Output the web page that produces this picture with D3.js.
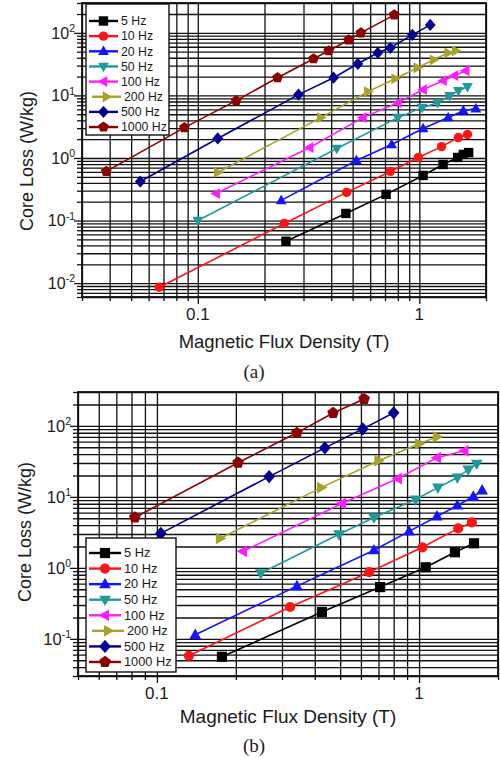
<!DOCTYPE html>
<html><head><meta charset="utf-8">
<script src="https://cdn.jsdelivr.net/npm/d3@7"></script>
<style>
html,body{margin:0;padding:0;background:#fff;}
svg{display:block;}
text{font-family:"Liberation Sans",Arial,sans-serif;fill:#1a1a1a;}
</style></head><body>
<svg id="c" width="500" height="758"></svg>
<script>
// ---------- data ----------
const series = ["5 Hz","10 Hz","20 Hz","50 Hz","100 Hz","200 Hz","500 Hz","1000 Hz"];
const colors = ["#000000","#ff1414","#1414ff","#1f9a9a","#ff1cff","#a6a228","#000090","#8c0000"];
const markers = ["square","circle","up","down","left","right","diamond","pentagon"];
const xTickLabels = [0.1, 1];
const yTickLabelsA = [0.01, 0.1, 1, 10, 100];
const yTickLabelsB = [0.1, 1, 10, 100];

// Panel (a): flux density B (T) and core loss (W/kg) per frequency
const aB = [
  [0.25, 0.466, 0.708, 1.04, 1.28, 1.49, 1.58, 1.67],
  [0.067, 0.246, 0.47, 0.74, 0.99, 1.26, 1.50, 1.65],
  [0.238, 0.52, 0.75, 1.04, 1.35, 1.58, 1.80],
  [0.1, 0.424, 0.80, 1.03, 1.21, 1.37, 1.50, 1.65],
  [0.121, 0.32, 0.556, 0.80, 1.04, 1.28, 1.44, 1.62],
  [0.123, 0.359, 0.586, 0.778, 0.98, 1.16, 1.35, 1.46],
  [0.055, 0.123, 0.285, 0.41, 0.528, 0.65, 0.74, 0.93, 1.12],
  [0.0386, 0.087, 0.149, 0.229, 0.333, 0.39, 0.48, 0.545, 0.77]
];
const aL = [
  [0.0467, 0.13, 0.262, 0.526, 0.787, 1.02, 1.14, 1.22],
  [0.0086, 0.090, 0.282, 0.61, 1.02, 1.52, 2.12, 2.37],
  [0.21, 0.91, 1.64, 2.95, 4.42, 5.7, 6.15],
  [0.1, 1.42, 4.42, 6.38, 7.66, 9.9, 11.9, 13.8],
  [0.27, 1.47, 4.42, 7.66, 12.4, 17.2, 20.7, 24.8],
  [0.587, 4.42, 11.5, 18.5, 27.7, 37.1, 48, 51.7],
  [0.42, 2.05, 10.3, 19.2, 32, 48, 57.7, 93, 134],
  [0.61, 3.06, 8.25, 19.2, 38.5, 51.7, 77, 100, 194]
];
// Panel (b)
const bB = [
  [0.177, 0.426, 0.71, 1.06, 1.37, 1.62],
  [0.1325, 0.322, 0.645, 1.03, 1.41, 1.59],
  [0.14, 0.342, 0.673, 0.916, 1.17, 1.40, 1.61, 1.74],
  [0.249, 0.495, 0.673, 0.97, 1.18, 1.40, 1.54, 1.66],
  [0.213, 0.508, 0.83, 1.17, 1.49],
  [0.174, 0.423, 0.70, 1.0, 1.17],
  [0.1035, 0.268, 0.437, 0.61, 0.80],
  [0.0824, 0.204, 0.342, 0.47, 0.617]
];
const bL = [
  [0.056, 0.239, 0.536, 1.02, 1.66, 2.22],
  [0.0578, 0.281, 0.87, 1.95, 3.6, 4.37],
  [0.114, 0.553, 1.77, 3.27, 5.3, 7.55, 10.1, 12.3],
  [0.84, 2.97, 5.13, 9.17, 13.5, 18.7, 24.2, 29.3],
  [1.71, 8.07, 18.1, 35.6, 44.6],
  [2.6, 13.5, 32.3, 56, 70],
  [3.06, 19.3, 49, 90.7, 153],
  [5.13, 30.3, 79.8, 152, 239]
];

// ---------- layout ----------
const panels = [
  {B:aB, L:aL, xDomain:[0.03,2], yDomain:[0.006,300], left:82, right:486, top:3, bottom:297,
   yLabels:yTickLabelsA, yLabelSize:16, xLabelY:320, yTitleX:33, yTitleY:161,
   xTitleX:284, xTitleY:348, xTitleSize:18.5, tag:"(a)", tagY:378,
   leg:{x0:86, x1:169, y0:4, y1:135, first:21, step:15.15, lx0:89, lx1:118, tx:121, fs:12.3}, ms:4.7},
  {B:bB, L:bL, xDomain:[0.05,2], yDomain:[0.03,300], left:78, right:498, top:392, bottom:676,
   yLabels:yTickLabelsB, yLabelSize:16.5, xLabelY:699, yTitleX:31, yTitleY:532,
   xTitleX:288, xTitleY:723, xTitleSize:19, tag:"(b)", tagY:752,
   leg:{x0:86, x1:176, y0:538, y1:672, first:553, step:15.57, lx0:89, lx1:121, tx:124, fs:12.8}, ms:5.1}
];

function markerPath(type, s){
  const p = d3.path();
  if(type==="circle"){ p.arc(0,0,s,0,2*Math.PI); return p.toString(); }
  let pts;
  switch(type){
    case "square": pts=[[-s,-s],[s,-s],[s,s],[-s,s]]; break;
    case "up": pts=[[0,-s*1.25],[s*1.15,s*0.8],[-s*1.15,s*0.8]]; break;
    case "down": pts=[[0,s*1.25],[s*1.15,-s*0.8],[-s*1.15,-s*0.8]]; break;
    case "left": pts=[[-s*1.25,0],[s*0.8,-s*1.15],[s*0.8,s*1.15]]; break;
    case "right": pts=[[s*1.25,0],[-s*0.8,-s*1.15],[-s*0.8,s*1.15]]; break;
    case "diamond": pts=[[0,-s*1.3],[s*1.15,0],[0,s*1.3],[-s*1.15,0]]; break;
    case "pentagon": pts=d3.range(5).map(i=>{const a=-Math.PI/2+i*2*Math.PI/5; return [Math.cos(a)*s*1.2, Math.sin(a)*s*1.2];}); break;
  }
  p.moveTo(pts[0][0],pts[0][1]); pts.slice(1).forEach(q=>p.lineTo(q[0],q[1])); p.closePath();
  return p.toString();
}
const isDecade = d => Math.abs(Math.log10(d)-Math.round(Math.log10(d)))<1e-6;

const svg = d3.select("#c");

panels.forEach(cfg=>{
  const g = svg.append("g");
  const x = d3.scaleLog().domain(cfg.xDomain).range([cfg.left, cfg.right]);
  const y = d3.scaleLog().domain(cfg.yDomain).range([cfg.bottom, cfg.top]);
  const W = cfg.right-cfg.left, H = cfg.bottom-cfg.top;
  const xt = x.ticks(), yt = y.ticks();

  // grid
  g.append("g").attr("transform",`translate(0,${cfg.bottom})`)
    .call(d3.axisBottom(x).tickValues(xt).tickSize(-H).tickFormat(""))
    .call(a=>{a.select(".domain").remove(); a.selectAll("line").attr("stroke","#111").attr("stroke-width",1.3);});
  g.append("g").attr("transform",`translate(${cfg.left},0)`)
    .call(d3.axisLeft(y).tickValues(yt).tickSize(-W).tickFormat(""))
    .call(a=>{a.select(".domain").remove(); a.selectAll("line").attr("stroke","#111").attr("stroke-width",1.3);});

  // outward ticks
  g.append("g").attr("transform",`translate(0,${cfg.bottom})`)
    .call(d3.axisBottom(x).tickValues(xt).tickSizeInner(4).tickSizeOuter(0).tickFormat(""))
    .call(a=>{a.select(".domain").remove(); a.selectAll("line").attr("stroke","#111").attr("stroke-width",1.3).filter(isDecade).attr("y2",7);});
  g.append("g").attr("transform",`translate(${cfg.left},0)`)
    .call(d3.axisLeft(y).tickValues(yt).tickSizeInner(5).tickSizeOuter(0).tickFormat(""))
    .call(a=>{a.select(".domain").remove(); a.selectAll("line").attr("stroke","#111").attr("stroke-width",1.3).filter(isDecade).attr("x2",-8);});

  // frame
  g.append("rect").attr("x",cfg.left).attr("y",cfg.top).attr("width",W).attr("height",H)
    .attr("fill","none").attr("stroke","#111").attr("stroke-width",1.8);

  // tick labels
  g.selectAll(".xl").data(xTickLabels).join("text")
    .attr("x",d=>x(d)).attr("y",cfg.xLabelY).attr("text-anchor","middle")
    .attr("font-size",17).text(d=>d);
  const yl = g.selectAll(".yl").data(cfg.yLabels).join("text")
    .attr("x",cfg.left-7).attr("y",d=>y(d)+5.8).attr("text-anchor","end")
    .attr("font-size",cfg.yLabelSize);
  yl.append("tspan").text("10");
  yl.append("tspan").attr("dy",-6.5).attr("font-size",10.5).text(d=>String(Math.round(Math.log10(d))));

  // titles
  g.append("text").attr("transform",`translate(${cfg.yTitleX},${cfg.yTitleY}) rotate(-90)`)
    .attr("text-anchor","middle").attr("font-size",18).text("Core Loss (W/kg)");
  g.append("text").attr("x",cfg.xTitleX).attr("y",cfg.xTitleY).attr("text-anchor","middle")
    .attr("font-size",cfg.xTitleSize).text("Magnetic Flux Density (T)");
  g.append("text").attr("x",254).attr("y",cfg.tagY).attr("text-anchor","middle")
    .attr("font-size",19).style("font-family","'Liberation Serif','Times New Roman',serif").text(cfg.tag);

  // series
  const line = d3.line().x(d=>x(d[0])).y(d=>y(d[1]));
  series.forEach((name,i)=>{
    const pts = cfg.B[i].map((b,j)=>[b, cfg.L[i][j]]);
    g.append("path").attr("d",line(pts)).attr("fill","none").attr("stroke",colors[i]).attr("stroke-width",1.6);
    g.selectAll(null).data(pts).join("path")
      .attr("transform",d=>`translate(${x(d[0])},${y(d[1])})`)
      .attr("d",markerPath(markers[i],cfg.ms)).attr("fill",colors[i]);
  });

  // legend
  const lg = cfg.leg;
  g.append("rect").attr("x",lg.x0).attr("y",lg.y0).attr("width",lg.x1-lg.x0).attr("height",lg.y1-lg.y0)
    .attr("fill","#fff").attr("stroke","#111").attr("stroke-width",1.4);
  const shift = series.map(s=>s==="200 Hz"?3:0);
  const items = g.selectAll(".lg").data(series).join("g")
    .attr("transform",(d,i)=>`translate(${shift[i]},${lg.first+i*lg.step})`);
  items.append("line").attr("x1",lg.lx0).attr("x2",lg.lx1).attr("y1",0).attr("y2",0)
    .attr("stroke",(d,i)=>colors[i]).attr("stroke-width",2.4);
  items.append("path").attr("transform",`translate(${(lg.lx0+lg.lx1)/2},0)`)
    .attr("d",(d,i)=>markerPath(markers[i],cfg.ms)).attr("fill",(d,i)=>colors[i]);
  items.append("text").attr("x",lg.tx).attr("y",4.3).attr("font-size",lg.fs).text(d=>d);
});
</script>
</body></html>
